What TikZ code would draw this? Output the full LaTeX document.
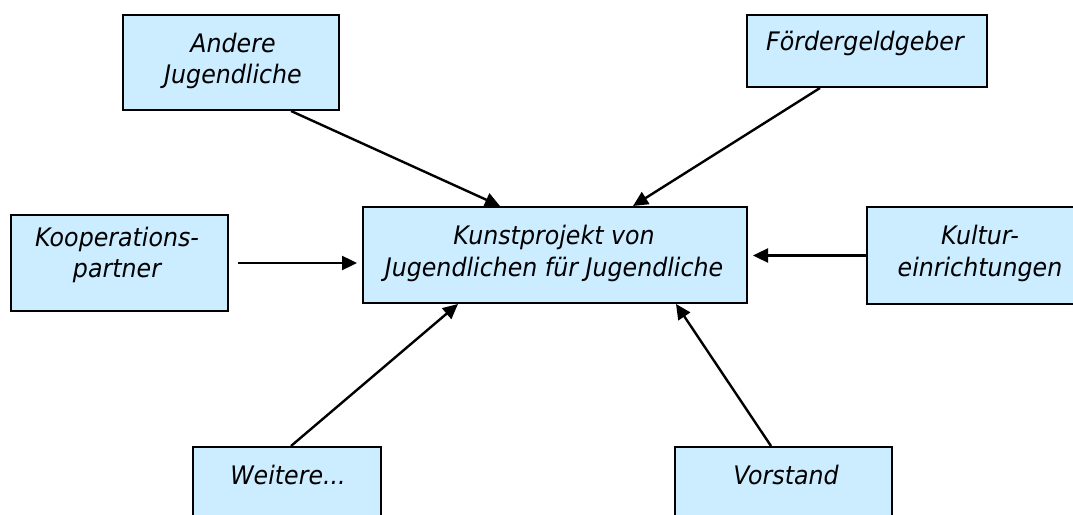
\documentclass[tikz,border=0pt]{standalone}
\usepackage{fontspec}
\setmainfont{DejaVu Sans}[FakeStretch=0.93]
\usetikzlibrary{arrows.meta,calc}
\definecolor{boxfill}{RGB}{204,236,255}
\begin{document}
\begin{tikzpicture}[x=1bp,y=-1bp,
  box/.style={draw=black,fill=boxfill,line width=2bp,inner sep=0pt,rectangle},
  txt/.style={anchor=base,inner sep=0pt,font=\fontsize{25.5bp}{32bp}\selectfont\itshape},
  arr/.style={line width=2.4bp,-{Triangle[length=15bp,width=14bp]}}]
\useasboundingbox (0,0) rectangle (1073,515);
% boxes
\node[box,minimum width=216bp,minimum height=95bp] (A) at (231,62.5) {};
\node[box,minimum width=240bp,minimum height=72bp] (F) at (867,51) {};
\node[box,minimum width=217bp,minimum height=96bp] (K) at (119.5,263) {};
\node[box,minimum width=384bp,minimum height=96bp] (C) at (555,255) {};
\node[box,minimum width=226bp,minimum height=97bp] (Ku) at (980,255.5) {};
\node[box,minimum width=188bp,minimum height=72bp] (W) at (287,483) {};
\node[box,minimum width=217bp,minimum height=72bp] (V) at (783.5,483) {};
% texts
\node[txt] (A1) at (233,53) {Andere};
\node[txt] (A2) at (233,84) {Jugendliche};
\node[txt] (F1) at (865,51) {Fördergeldgeber};
\node[txt] (K1) at (117,247) {Kooperations-};
\node[txt] (K2) at (117,278) {partner};
\node[txt] (C1) at (554,245) {Kunstprojekt von};
\node[txt] (C2) at (554,277) {Jugendlichen für Jugendliche};
\node[txt] (Ku1) at (980,245) {Kultur-};
\node[txt] (Ku2) at (980,277) {einrichtungen};
\node[txt] (W1) at (288,484) {Weitere...};
\node[txt] (V1) at (786,484) {Vorstand};
% connectors
\draw[arr] ([xshift=60bp]A.south) -- ([xshift=-55bp]C.north);
\draw[arr] ([xshift=-47bp]F.south) -- ([xshift=78bp]C.north);
\draw[arr,shorten <=9bp,shorten >=5bp] (K.east) -- (K.east -| C.west);
\draw[arr,shorten >=5bp] (Ku.west) -- (Ku.west -| C.east);
\draw[arr] ([xshift=4bp]W.north) -- ([xshift=-97bp]C.south);
\draw[arr] ([xshift=-12.5bp]V.north) -- ([xshift=121bp]C.south);
\end{tikzpicture}
\end{document}
